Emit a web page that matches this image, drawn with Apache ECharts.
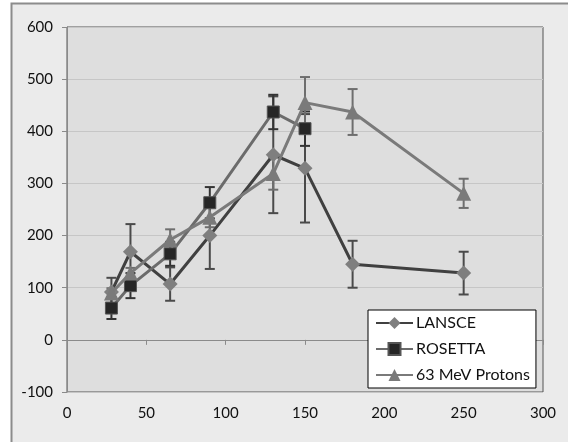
<!DOCTYPE html>
<html>
<head>
<meta charset="utf-8">
<script src="https://cdn.jsdelivr.net/npm/echarts@6/dist/echarts.min.js"></script>
<style>
  html, body { margin: 0; padding: 0; background: #fff; }
  #chart { width: 568px; height: 442px; }
</style>
</head>
<body>
<div id="chart"></div>
<script>
// x positions of the measurements
var lansceX = [28, 40, 65, 90, 130, 150, 180, 250];
var lansceY = [92, 169, 107, 200, 355, 329, 145, 128];
var lansceErr = [27, 53, 32, 64, 112, 104, 45, 41];

var rosettaX = [28, 40, 65, 90, 130, 150];
var rosettaY = [61, 104, 165, 263, 437, 405];
var rosettaErr = [21, 24, 23, 30, 33, 33];

var protonX = [28, 40, 65, 90, 130, 150, 180, 250];
var protonY = [90, 128, 192, 235, 319, 455, 437, 281];
var protonErr = [9, 10, 20, 19, 31, 49, 44, 28];

var seriesNames = ['LANSCE', 'ROSETTA', '63 MeV Protons'];

var FONT = 'Lato';

function pairs(xs, ys) {
  return xs.map(function (x, i) { return [x, ys[i]]; });
}
function bars(xs, ys, es) {
  return xs.map(function (x, i) { return [x, ys[i] - es[i], ys[i] + es[i]]; });
}

// error bar drawn through the axis scales
function errorBarSeries(name, data, color) {
  return {
    type: 'custom',
    name: name + ' err',
    z: 3,
    silent: true,
    data: data,
    renderItem: function (params, api) {
      var lo = api.coord([api.value(0), api.value(1)]);
      var hi = api.coord([api.value(0), api.value(2)]);
      var w = 5;
      var st = { stroke: color, lineWidth: 2 };
      return {
        type: 'group',
        children: [
          { type: 'line', shape: { x1: lo[0], y1: lo[1], x2: hi[0], y2: hi[1] }, style: st },
          { type: 'line', shape: { x1: lo[0] - w, y1: lo[1], x2: lo[0] + w, y2: lo[1] }, style: st },
          { type: 'line', shape: { x1: hi[0] - w, y1: hi[1], x2: hi[0] + w, y2: hi[1] }, style: st }
        ]
      };
    }
  };
}

var chart = echarts.init(document.getElementById('chart'));

var option = {
  animation: false,
  backgroundColor: '#ffffff',
  graphic: [{
    type: 'rect',
    z: -10,
    shape: { x: 11.5, y: 3.5, width: 600, height: 500 },
    style: { fill: '#ebebeb', stroke: '#8c8c8c', lineWidth: 2 }
  }],
  grid: {
    left: 67, top: 27, right: 25, bottom: 50,
    show: true,
    backgroundColor: '#dedede',
    borderColor: '#555555',
    borderWidth: 1
  },
  legend: {
    data: seriesNames,
    orient: 'vertical',
    left: 368, top: 310,
    width: 171,
    padding: [5, 6, 5, 7],
    itemGap: 10,
    itemWidth: 37,
    itemHeight: 15,
    backgroundColor: '#ffffff',
    borderColor: '#000000',
    borderWidth: 1,
    textStyle: { fontFamily: FONT, fontSize: 16, color: '#111111', padding: [0, 0, 0, -2] }
  },
  xAxis: {
    type: 'value',
    min: 0, max: 300, interval: 50,
    axisLine: { show: true, lineStyle: { color: '#8a8a8a', width: 1 } },
    axisTick: { show: true, length: 5, lineStyle: { color: '#8a8a8a' } },
    splitLine: { show: false },
    axisLabel: { fontFamily: FONT, fontSize: 15, color: '#111111', margin: 14 }
  },
  yAxis: {
    type: 'value',
    min: -100, max: 600, interval: 100,
    axisLine: { show: true, lineStyle: { color: '#8a8a8a', width: 1 } },
    axisTick: { show: true, length: 5, lineStyle: { color: '#8a8a8a' } },
    splitLine: { show: true, lineStyle: { color: '#c6c6c6', width: 1 } },
    axisLabel: { fontFamily: FONT, fontSize: 15, color: '#111111', margin: 14 }
  },
  series: [
    errorBarSeries('LANSCE', bars(lansceX, lansceY, lansceErr), '#4a4a4a'),
    errorBarSeries('ROSETTA', bars(rosettaX, rosettaY, rosettaErr), '#333333'),
    errorBarSeries('63 MeV Protons', bars(protonX, protonY, protonErr), '#6e6e6e'),
    {
      name: 'LANSCE',
      type: 'line',
      z: 4,
      data: pairs(lansceX, lansceY),
      symbol: 'diamond',
      symbolSize: 15,
      lineStyle: { color: '#404040', width: 3 },
      itemStyle: { color: '#7f7f7f' }
    },
    {
      name: 'ROSETTA',
      type: 'line',
      z: 5,
      data: pairs(rosettaX, rosettaY),
      symbol: 'rect',
      symbolSize: 12,
      lineStyle: { color: '#6b6b6b', width: 3 },
      itemStyle: { color: '#262626', borderColor: '#555555', borderWidth: 1 }
    },
    {
      name: '63 MeV Protons',
      type: 'line',
      z: 6,
      data: pairs(protonX, protonY),
      symbol: 'triangle',
      symbolSize: 15,
      lineStyle: { color: '#7a7a7a', width: 3 },
      itemStyle: { color: '#7a7a7a' }
    }
  ]
};

chart.setOption(option);
window.addEventListener('resize', function () { chart.resize(); });
</script>
</body>
</html>
